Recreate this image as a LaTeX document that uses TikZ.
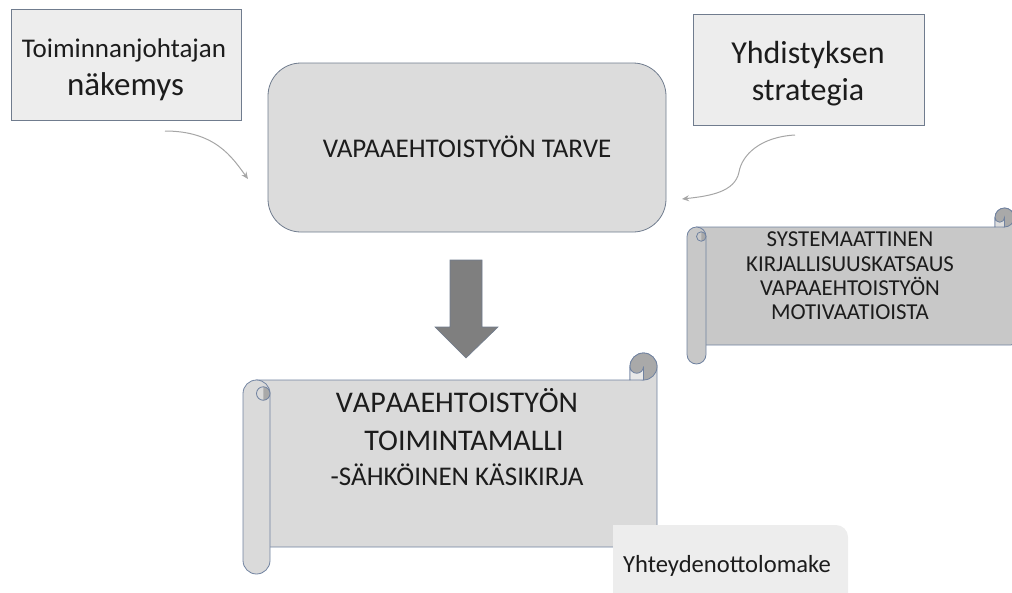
\documentclass[tikz,border=0pt]{standalone}
\usepackage{fontspec}
\setmainfont{Carlito}
\usepackage{xcolor}
\usetikzlibrary{arrows.meta}

\definecolor{boxfill}{HTML}{EDEDED}
\definecolor{boxline}{HTML}{707C8E}
\definecolor{tarvefill}{HTML}{DCDCDC}
\definecolor{scrollfill}{HTML}{DADADA}
\definecolor{scrolldark}{HTML}{C8C8C8}
\definecolor{curlfill}{HTML}{A9A9A9}
\definecolor{scrollline}{HTML}{7082A0}
\definecolor{bigarrow}{HTML}{7F7F7F}
\definecolor{thinarrow}{HTML}{A6A6A6}
\definecolor{ink}{HTML}{1C1C1C}

% scroll: left, top, right, bottom, roll radius, fill
\newcommand{\drawscroll}[6]{%
  \filldraw[fill=#6, draw=scrollline, line width=0.8pt]
    ({#1+#5},#2) -- ({#3-2*#5},#2) -- ({#3-2*#5},{#2-#5})
    arc[start angle=180, end angle=360, radius=#5]
    -- (#3,{#4-#5/3}) arc[start angle=0, end angle=90, radius=#5/3]
    -- ({#1+#5},#4) -- cycle;
  \filldraw[fill=curlfill, draw=scrollline, line width=0.8pt] ({#3-#5},{#2-#5}) circle[radius=#5];
  \filldraw[fill=#6!60!white, draw=scrollline, line width=0.8pt]
    ({#3-2*#5},{#2-#5}) -- ({#3-2*#5},#2) -- ({#3-#5},#2) -- ({#3-#5},{#2-#5})
    arc[start angle=0, end angle=180, radius=#5/2];
  % left roll
  \filldraw[fill=#6, draw=scrollline, line width=0.8pt, rounded corners=#5]
    (#1,#2) rectangle ({#1+2*#5},{#4+2*#5});
  \fill[curlfill] ({#1+1.5*#5},{#2+#5/2}) arc[start angle=270, end angle=450, radius=#5/2] -- cycle;
  \draw[scrollline, line width=0.8pt] ({#1+1.5*#5},{#2+#5}) circle[radius=#5/2];
}

\begin{document}
\begin{tikzpicture}[x=1pt, y=-1pt,
    infobox/.style={draw=boxline, fill=boxfill, line width=0.8pt, inner sep=0pt},
    label/.style={text=ink, anchor=base, inner sep=0pt, align=center},
    thin/.style={draw=thinarrow, line width=1pt, -{Stealth[length=7pt, width=6pt]}}]
  \useasboundingbox (0,0) rectangle (1012,592);
  \clip (0,0) rectangle (1012,592);

  % top boxes
  \node[infobox, minimum width=230, minimum height=111] (johtaja) at (126,64.5) {};
  \node[label, font=\fontsize{27}{32}\selectfont] (johtajaA) at (124,57) {Toiminnanjohtajan};
  \node[label, font=\fontsize{33}{40}\selectfont] (johtajaB) at (125.5,95) {näkemys};

  \node[infobox, minimum width=231, minimum height=111] (strategia) at (808.5,69.5) {};
  \node[label, font=\fontsize{32}{38}\selectfont] (strategiaA) at (808,63) {Yhdistyksen};
  \node[label, font=\fontsize{32}{38}\selectfont] (strategiaB) at (808,100) {strategia};

  \node[draw=boxline, fill=tarvefill, line width=0.8pt, rounded corners=33,
        minimum width=398, minimum height=169] (tarve) at (467,147.5) {};
  \node[label, font=\fontsize{27}{32}\selectfont] (tarveT) at (467,157) {VAPAAEHTOISTYÖN TARVE};

  % curved arrows
  \coordinate (johtajaOut) at (165,131);
  \coordinate (tarveInA) at (248,179);
  \coordinate (strategiaOut) at (795,135);
  \coordinate (tarveInB) at (682,199);
  \draw[thin] (johtajaOut) .. controls (215,131) and (232,157) .. (tarveInA);
  \draw[thin] (strategiaOut) .. controls (760,137) and (742,155) .. (739,172)
    .. controls (735,192) and (710,196) .. (tarveInB);

  % big arrow
  \filldraw[fill=bigarrow, draw=boxline, line width=0.6pt]
    (450,260) -- (482,260) -- (482,327) -- (498,327) -- (466,358) -- (435,327) -- (450,327) -- cycle;

  % scrolls
  \drawscroll{687}{227}{1014}{345}{9.5}{scrolldark}
  \node[label, font=\fontsize{22.8}{24.3}\selectfont] (katsaus) at (850,319.6) {SYSTEMAATTINEN\\KIRJALLISUUSKATSAUS\\VAPAAEHTOISTYÖN\\MOTIVAATIOISTA};

  \drawscroll{243}{380}{657}{547}{13.5}{scrollfill}
  \node[label, font=\fontsize{30}{34}\selectfont\addfontfeature{Kerning=Off}] (malliA) at (457,412) {VAPAAEHTOISTYÖN};
  \node[label, font=\fontsize{30}{34}\selectfont] (malliB) at (464,450) {TOIMINTAMALLI};
  \node[label, font=\fontsize{27}{31}\selectfont] (malliC) at (457,485) {-SÄHKÖINEN KÄSIKIRJA};

  % contact form
  \fill[boxfill] (613,600) -- (613,525) -- (836,525) arc[start angle=270, end angle=360, radius=12] -- (848,600) -- cycle;
  \node[label, font=\fontsize{24.6}{30}\selectfont] (lomake) at (727,572) {Yhteydenottolomake};
\end{tikzpicture}
\end{document}
